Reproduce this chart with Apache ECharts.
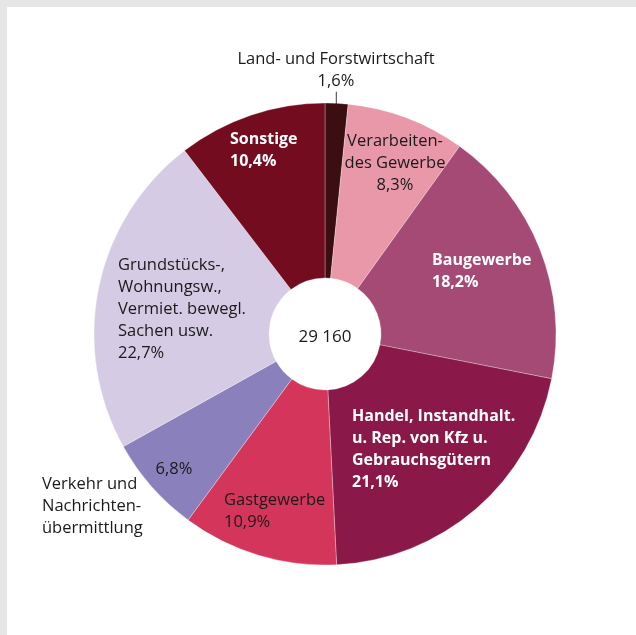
<!DOCTYPE html>
<html><head><meta charset="utf-8">
<script src="https://cdn.jsdelivr.net/npm/echarts@6/dist/echarts.min.js"></script>
<style>
html,body{margin:0;padding:0;background:#e6e6e6;}
#c{position:absolute;left:7px;top:7px;width:629px;height:628px;background:#fff;}
</style></head><body><div id="c"></div>
<script>
const categories = ['Land- und Forstwirtschaft','Verarbeiten-\ndes Gewerbe','Baugewerbe','Handel, Instandhalt.\nu. Rep. von Kfz u.\nGebrauchsgütern','Gastgewerbe','Verkehr und\nNachrichten-\nübermittlung','Grundstücks-,\nWohnungsw.,\nVermiet. bewegl.\nSachen usw.','Sonstige'];
const values = [1.6, 8.3, 18.2, 21.1, 10.9, 6.8, 22.7, 10.4];
const colors = ['#3b0e12','#e898a8','#a44a74','#8a1848','#d4365b','#8a80bb','#d6cbe4','#740c20'];
const totalLabel = '29 160';

const FONT = 'Open Sans';
const FS = 16.5;
const FSB = 16;
const fmt = v => v.toFixed(1).replace('.', ',') + '%';
// label placement: [x, y, align]
const pos = [
  [329, 41, 'center'],
  [388, 123, 'center'],
  [425, 242, 'left'],
  [345, 398, 'left'],
  [217, 482, 'left'],
  [167, 451, 'center'],
  [111, 247, 'left'],
  [223, 121, 'left']
];
const whiteBold = [false,false,true,true,false,false,false,true];

const data = categories.map((n, i) => {
  const showName = i !== 5;
  let text = (showName ? n + '\n' : '') + fmt(values[i]);
  if (i === 0) text += '\n{l|│}';
  return {
    name: n, value: values[i],
    itemStyle: {color: colors[i]},
    label: {
      formatter: text,
      color: whiteBold[i] ? '#fff' : '#1a1a1a',
      fontWeight: whiteBold[i] ? 'bold' : 'normal',
      fontSize: whiteBold[i] ? FSB : FS,
      align: pos[i][2],
      rich: {l: {fontFamily: 'DejaVu Sans', fontSize: 10, lineHeight: 12, color: '#000', align: 'center'}}
    }
  };
});

const chart = echarts.init(document.getElementById('c'));
chart.setOption({
  animation: false,
  series: [{
    type: 'pie',
    center: [318, 327],
    radius: [56, 231],
    startAngle: 90,
    clockwise: true,
    avoidLabelOverlap: false,
    emphasis: {disabled: true},
    itemStyle: {borderColor: 'rgba(255,255,255,0.5)', borderWidth: 0.6},
    label: {show: true, position: 'inside', fontFamily: FONT, fontSize: FS, lineHeight: 22},
    labelLine: {show: false},
    labelLayout: p => ({x: pos[p.dataIndex][0], y: pos[p.dataIndex][1], align: pos[p.dataIndex][2], verticalAlign: 'top'}),
    data: data
  }, {
    type: 'pie',
    center: [318, 327],
    radius: [56, 231],
    startAngle: 90,
    clockwise: true,
    silent: true,
    avoidLabelOverlap: false,
    itemStyle: {color: 'rgba(0,0,0,0)'},
    label: {show: false},
    labelLine: {show: false},
    labelLayout: p => ({x: 35, y: 466, align: 'left', verticalAlign: 'top'}),
    data: categories.map((n, i) => ({name: n, value: values[i], label: {show: i === 5, position: 'inside', formatter: n, fontFamily: FONT, fontSize: FS, lineHeight: 22, color: '#1a1a1a', align: 'left'}}))
  }],
  graphic: [{
    type: 'text', x: 318, y: 330,
    style: {text: totalLabel, fontFamily: FONT, fontSize: 17, fill: '#1a1a1a', align: 'center', verticalAlign: 'middle'}
  }]
});
</script></body></html>
